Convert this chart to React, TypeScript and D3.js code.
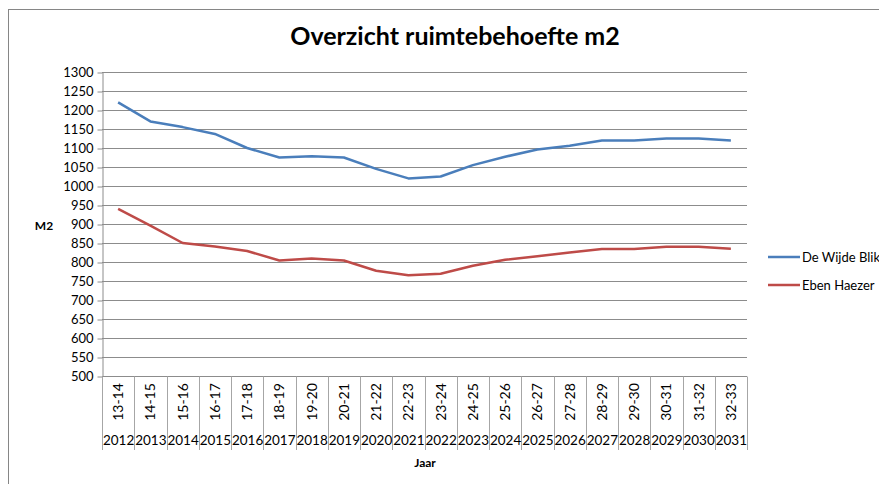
import React, { useRef, useEffect } from 'react';
import * as d3 from 'd3';

const schoolYears = ['13-14', '14-15', '15-16', '16-17', '17-18', '18-19', '19-20', '20-21', '21-22', '22-23',
  '23-24', '24-25', '25-26', '26-27', '27-28', '28-29', '29-30', '30-31', '31-32', '32-33'];
const years = ['2012', '2013', '2014', '2015', '2016', '2017', '2018', '2019', '2020', '2021',
  '2022', '2023', '2024', '2025', '2026', '2027', '2028', '2029', '2030', '2031'];
const deWijdeBlik = [1220, 1170, 1155, 1137, 1100, 1075, 1078, 1075, 1045, 1020,
  1025, 1055, 1077, 1096, 1106, 1120, 1120, 1125, 1125, 1120];
const ebenHaezer = [940, 896, 850, 841, 829, 804, 809, 804, 777, 765,
  769, 790, 806, 815, 825, 834, 834, 840, 840, 835];
const seriesNames = ['De Wijde Blik', 'Eben Haezer'];
const yTicks = d3.range(500, 1301, 50);

const FONT = 'Lato, "Open Sans", sans-serif';

const App = () => {
  const ref = useRef<SVGSVGElement | null>(null);

  useEffect(() => {
    if (!ref.current) return;
    const svg = d3.select(ref.current);
    svg.selectAll('*').remove();

    // plot area
    const margin = { top: 72, left: 102, right: 132, bottom: 108 };
    const W = 879, H = 484;
    const x = d3.scaleBand().domain(schoolYears).range([margin.left, W - margin.right]);
    const y = d3.scaleLinear().domain([500, 1300]).range([H - margin.bottom, margin.top]);

    // chart frame
    svg.append('rect')
      .attr('x', 8.5).attr('y', 9.5).attr('width', 1000).attr('height', 1000)
      .attr('fill', '#fff').attr('stroke', '#868686').attr('stroke-width', 1);

    // title
    svg.append('text')
      .attr('x', 455).attr('y', 45)
      .attr('text-anchor', 'middle')
      .style('font-family', FONT).style('font-weight', 'bold').style('font-size', '25px')
      .text('Overzicht ruimtebehoefte m2');

    // gridlines
    svg.append('g').selectAll('line').data(yTicks).enter().append('line')
      .attr('x1', margin.left).attr('x2', W - margin.right)
      .attr('y1', (d) => Math.round(y(d)) + 0.5).attr('y2', (d) => Math.round(y(d)) + 0.5)
      .attr('stroke', '#8c8c8c').attr('stroke-width', 1);

    // y axis
    const yAxis = svg.append('g')
      .attr('transform', `translate(${margin.left + 0.5},0)`)
      .call(d3.axisLeft(y).tickValues(yTicks).tickFormat(d3.format('d')).tickSize(5).tickPadding(4).tickSizeOuter(0));
    yAxis.select('.domain').attr('stroke', '#8c8c8c');
    yAxis.selectAll('.tick line').attr('stroke', '#8c8c8c')
      .attr('transform', (d: any) => `translate(0,${Math.round(y(d)) + 0.5 - y(d)})`);
    yAxis.selectAll('.tick text')
      .style('font-family', FONT).style('font-size', '13px').attr('fill', '#000');

    svg.append('text')
      .attr('x', 44).attr('y', 230)
      .attr('text-anchor', 'middle')
      .style('font-family', FONT).style('font-weight', 'bold').style('font-size', '12px')
      .text('M2');

    // category dividers
    const edges = schoolYears.map((s) => x(s) as number).concat([W - margin.right]);
    const axisY = Math.round(y(500)) + 0.5;
    svg.append('g').selectAll('line').data(edges).enter().append('line')
      .attr('x1', (d) => Math.round(d) + 0.5).attr('x2', (d) => Math.round(d) + 0.5)
      .attr('y1', axisY).attr('y2', 450)
      .attr('stroke', '#a6a6a6');

    // rotated school year labels
    svg.append('g').selectAll('text').data(schoolYears).enter().append('text')
      .attr('transform', (d) => `translate(${(x(d) as number) + x.bandwidth() / 2 + 5},402) rotate(-90)`)
      .attr('text-anchor', 'middle')
      .style('font-family', FONT).style('font-size', '14px')
      .text((d) => d);

    // year labels
    svg.append('g').selectAll('text').data(years).enter().append('text')
      .attr('x', (d, i) => (x(schoolYears[i]) as number) + x.bandwidth() / 2 + 0.5)
      .attr('y', 445)
      .attr('text-anchor', 'middle')
      .style('font-family', FONT).style('font-size', '13.5px')
      .text((d) => d);

    svg.append('text')
      .attr('x', 425).attr('y', 467)
      .attr('text-anchor', 'middle')
      .style('font-family', FONT).style('font-weight', 'bold').style('font-size', '12px')
      .text('Jaar');

    // lines
    const colors = ['#4A7EBB', '#BE4B48'];
    const data = [deWijdeBlik, ebenHaezer];
    const line = d3.line<number>()
      .x((d, i) => (x(schoolYears[i]) as number) + x.bandwidth() / 2)
      .y((d) => y(d));
    data.forEach((vals, k) => {
      svg.append('path')
        .datum(vals)
        .attr('d', line)
        .attr('fill', 'none')
        .attr('stroke', colors[k])
        .attr('stroke-width', 2.5)
        .attr('stroke-linejoin', 'round');
    });

    // legend
    seriesNames.forEach((name, k) => {
      const ly = 257 + k * 28;
      svg.append('line')
        .attr('x1', 768).attr('x2', 800).attr('y1', ly).attr('y2', ly)
        .attr('stroke', colors[k]).attr('stroke-width', 2.5);
      svg.append('text')
        .attr('x', 802).attr('y', ly + 4.5)
        .style('font-family', FONT).style('font-size', '13px')
        .text(name);
    });
  }, []);

  return (
    <svg ref={ref} width={879} height={484}
      style={{ position: 'absolute', left: 0, top: 0, display: 'block', background: '#fff' }} />
  );
};

export default App;
